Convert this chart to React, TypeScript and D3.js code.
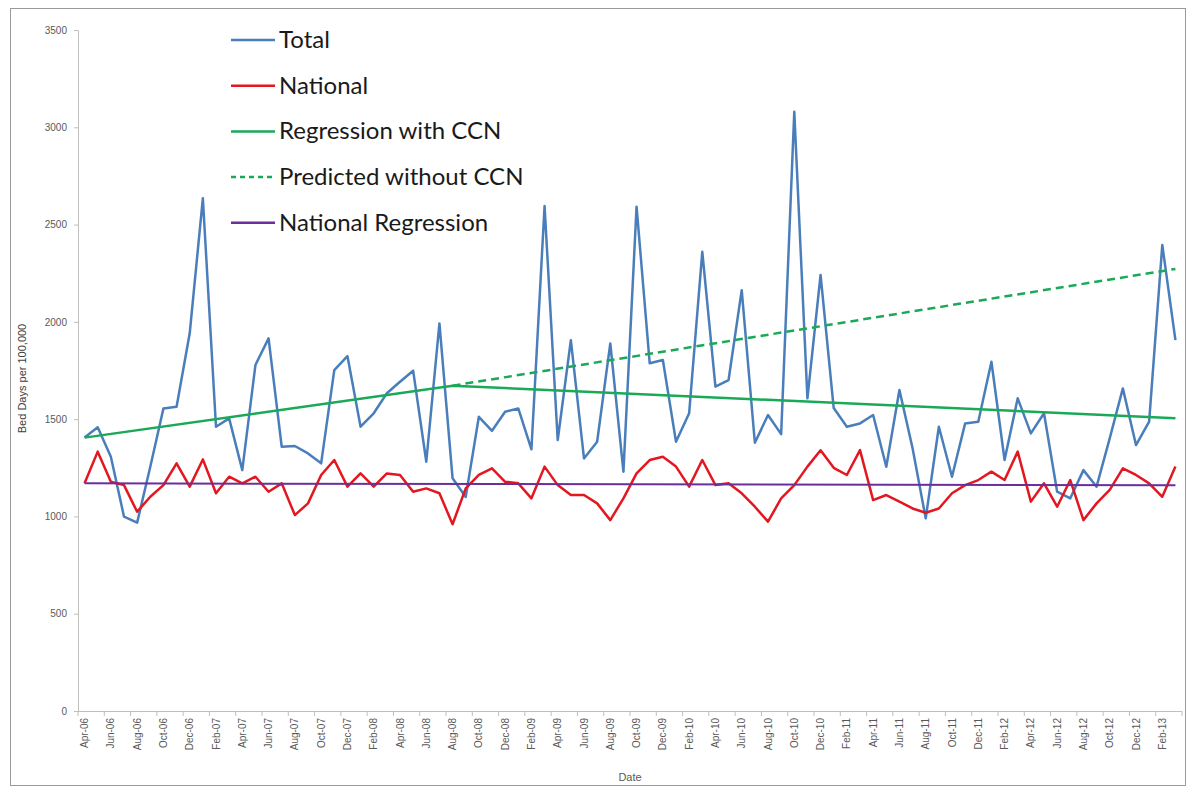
import { useEffect, useRef } from "react";
import * as d3 from "d3";

const WIDTH = 1195;
const HEIGHT = 789;
const PLOT = { left: 78, right: 1182, top: 30, bottom: 711 };

const dates = [
  "Apr-06", "May-06", "Jun-06", "Jul-06", "Aug-06", "Sep-06", "Oct-06", "Nov-06", "Dec-06",
  "Jan-07", "Feb-07", "Mar-07", "Apr-07", "May-07", "Jun-07", "Jul-07", "Aug-07", "Sep-07",
  "Oct-07", "Nov-07", "Dec-07", "Jan-08", "Feb-08", "Mar-08", "Apr-08", "May-08", "Jun-08",
  "Jul-08", "Aug-08", "Sep-08", "Oct-08", "Nov-08", "Dec-08", "Jan-09", "Feb-09", "Mar-09",
  "Apr-09", "May-09", "Jun-09", "Jul-09", "Aug-09", "Sep-09", "Oct-09", "Nov-09", "Dec-09",
  "Jan-10", "Feb-10", "Mar-10", "Apr-10", "May-10", "Jun-10", "Jul-10", "Aug-10", "Sep-10",
  "Oct-10", "Nov-10", "Dec-10", "Jan-11", "Feb-11", "Mar-11", "Apr-11", "May-11", "Jun-11",
  "Jul-11", "Aug-11", "Sep-11", "Oct-11", "Nov-11", "Dec-11", "Jan-12", "Feb-12", "Mar-12",
  "Apr-12", "May-12", "Jun-12", "Jul-12", "Aug-12", "Sep-12", "Oct-12", "Nov-12", "Dec-12",
  "Jan-13", "Feb-13", "Mar-13",
];

const total = [
  1406, 1458, 1307, 999, 968, 1255, 1555, 1564, 1941, 2635, 1461, 1504, 1238, 1778, 1915,
  1358, 1362, 1324, 1273, 1752, 1824, 1461, 1530, 1633, 1692, 1749, 1281, 1992, 1196, 1100,
  1512, 1440, 1538, 1555, 1345, 2595, 1393, 1906, 1298, 1384, 1889, 1230, 2592, 1787, 1804,
  1384, 1530, 2360, 1667, 1701, 2163, 1379, 1521, 1423, 3080, 1607, 2241, 1557, 1461, 1478,
  1521, 1255, 1650, 1350, 990, 1461, 1204, 1478, 1487, 1795, 1290, 1607, 1427, 1530, 1127,
  1093, 1238, 1153, 1401, 1658, 1367, 1487, 2395, 1906,
];

const national = [
  1170, 1333, 1178, 1161, 1024, 1101, 1161, 1273, 1153, 1293, 1119, 1204, 1170, 1204, 1127,
  1170, 1007, 1067, 1213, 1290, 1153, 1221, 1153, 1221, 1213, 1127, 1144, 1119, 960, 1144,
  1213, 1247, 1178, 1170, 1093, 1256, 1161, 1110, 1110, 1067, 981, 1093, 1221, 1290, 1307,
  1256, 1153, 1290, 1161, 1170, 1119, 1050, 973, 1093, 1161, 1256, 1340, 1250, 1213, 1341,
  1084, 1110, 1076, 1041, 1019, 1041, 1119, 1161, 1187, 1230, 1187, 1333, 1076, 1170, 1050,
  1187, 981, 1067, 1136, 1247, 1213, 1170, 1101, 1256,
];

// fitted lines, given by their break points: [month index, value]
const regressionWithCcn: [number, number][] = [[0, 1405], [28, 1672], [83, 1505]];
const predictedWithoutCcn: [number, number][] = [[28, 1672], [83, 2272]];
const nationalRegression: [number, number][] = [[0, 1170], [83, 1160]];

const yTicks = [0, 500, 1000, 1500, 2000, 2500, 3000, 3500];

const legendItems = [
  { label: "Total", color: "#4a7ebb", dash: null },
  { label: "National", color: "#e3171f", dash: null },
  { label: "Regression with CCN", color: "#19a957", dash: null },
  { label: "Predicted without CCN", color: "#19a957", dash: "5,4" },
  { label: "National Regression", color: "#6a2f9a", dash: null },
];

export default function App() {
  const gRef = useRef<SVGGElement>(null);

  useEffect(() => {
    if (!gRef.current) return;
    const g = d3.select(gRef.current);
    g.selectAll("*").remove();

    const x = d3
      .scalePoint<string>()
      .domain(dates)
      .range([PLOT.left, PLOT.right])
      .padding(0.5);
    const step = x.step();

    const y = d3.scaleLinear().domain([0, 3500]).range([PLOT.bottom, PLOT.top]);

    // outer frame
    g.append("rect")
      .attr("x", 10.5)
      .attr("y", 8.5)
      .attr("width", 1175)
      .attr("height", 777)
      .attr("fill", "white")
      .attr("stroke", "#9a9a9a");

    // Y axis
    const yAxis = g
      .append("g")
      .attr("transform", `translate(${PLOT.left},0)`)
      .call(
        d3
          .axisLeft(y)
          .tickValues(yTicks)
          .tickFormat(d3.format("d"))
          .tickSize(4)
          .tickPadding(7)
          .tickSizeOuter(0)
      );
    yAxis.selectAll(".domain, .tick line").attr("stroke", "#bfbfbf");
    yAxis
      .selectAll("text")
      .attr("fill", "#595959")
      .attr("font-family", "Liberation Sans, Arial, sans-serif")
      .attr("font-size", 10);

    // X axis line and ticks between categories
    g.append("line")
      .attr("x1", PLOT.left)
      .attr("x2", PLOT.right)
      .attr("y1", PLOT.bottom + 0.5)
      .attr("y2", PLOT.bottom + 0.5)
      .attr("stroke", "#bfbfbf");

    g.selectAll(".xtick")
      .data(d3.range(0, dates.length + 1, 2))
      .join("line")
      .attr("class", "xtick")
      .attr("x1", (i) => PLOT.left + i * step)
      .attr("x2", (i) => PLOT.left + i * step)
      .attr("y1", PLOT.bottom)
      .attr("y2", PLOT.bottom + 5)
      .attr("stroke", "#bfbfbf");

    g.selectAll(".xlabel")
      .data(dates.filter((_, i) => i % 2 === 0))
      .join("text")
      .attr("class", "xlabel")
      .attr("transform", (d) => `translate(${(x(d) ?? 0) + 3.5},${PLOT.bottom + 7}) rotate(-90)`)
      .attr("text-anchor", "end")
      .attr("fill", "#595959")
      .attr("font-family", "Liberation Sans, Arial, sans-serif")
      .attr("font-size", 10)
      .text((d) => d);

    // axis titles
    g.append("text")
      .attr("transform", `translate(26,${(PLOT.top + PLOT.bottom) / 2 + 8}) rotate(-90)`)
      .attr("text-anchor", "middle")
      .attr("fill", "#404040")
      .attr("font-family", "Liberation Sans, Arial, sans-serif")
      .attr("font-size", 11)
      .text("Bed Days per 100,000");

    g.append("text")
      .attr("x", (PLOT.left + PLOT.right) / 2)
      .attr("y", 781)
      .attr("text-anchor", "middle")
      .attr("fill", "#595959")
      .attr("font-family", "Liberation Sans, Arial, sans-serif")
      .attr("font-size", 11)
      .text("Date");

    // series
    const seriesLine = d3
      .line<number>()
      .x((_, i) => x(dates[i]) ?? 0)
      .y((d) => y(d));

    const fitLine = d3
      .line<[number, number]>()
      .x((d) => x(dates[d[0]]) ?? 0)
      .y((d) => y(d[1]));

    g.append("path")
      .attr("d", seriesLine(total))
      .attr("fill", "none")
      .attr("stroke", legendItems[0].color)
      .attr("stroke-width", 2.5)
      .attr("stroke-linejoin", "round");

    g.append("path")
      .attr("d", seriesLine(national))
      .attr("fill", "none")
      .attr("stroke", legendItems[1].color)
      .attr("stroke-width", 2.5)
      .attr("stroke-linejoin", "round");

    g.append("path")
      .attr("d", fitLine(regressionWithCcn))
      .attr("fill", "none")
      .attr("stroke", legendItems[2].color)
      .attr("stroke-width", 2.5);

    g.append("path")
      .attr("d", fitLine(predictedWithoutCcn))
      .attr("fill", "none")
      .attr("stroke", legendItems[3].color)
      .attr("stroke-width", 2.5)
      .attr("stroke-dasharray", "8,5");

    g.append("path")
      .attr("d", fitLine(nationalRegression))
      .attr("fill", "none")
      .attr("stroke", legendItems[4].color)
      .attr("stroke-width", 2);

    // legend
    const legend = g
      .selectAll(".legend")
      .data(legendItems)
      .join("g")
      .attr("class", "legend")
      .attr("transform", (_, i) => `translate(231,${40 + i * 45.7})`);

    legend
      .append("line")
      .attr("x1", 0)
      .attr("x2", 44)
      .attr("y1", 0)
      .attr("y2", 0)
      .attr("stroke", (d) => d.color)
      .attr("stroke-width", 2.5)
      .attr("stroke-dasharray", (d) => d.dash ?? null);

    legend
      .append("text")
      .attr("x", 48)
      .attr("y", 8)
      .attr("fill", "#1a1a1a")
      .attr("font-family", "Lato, sans-serif")
      .attr("font-size", 24)
      .text((d) => d.label);
  }, []);

  return (
    <svg
      width={WIDTH}
      height={HEIGHT}
      style={{ position: "absolute", left: 0, top: 0, display: "block", background: "white" }}
    >
      <g ref={gRef} />
    </svg>
  );
}
